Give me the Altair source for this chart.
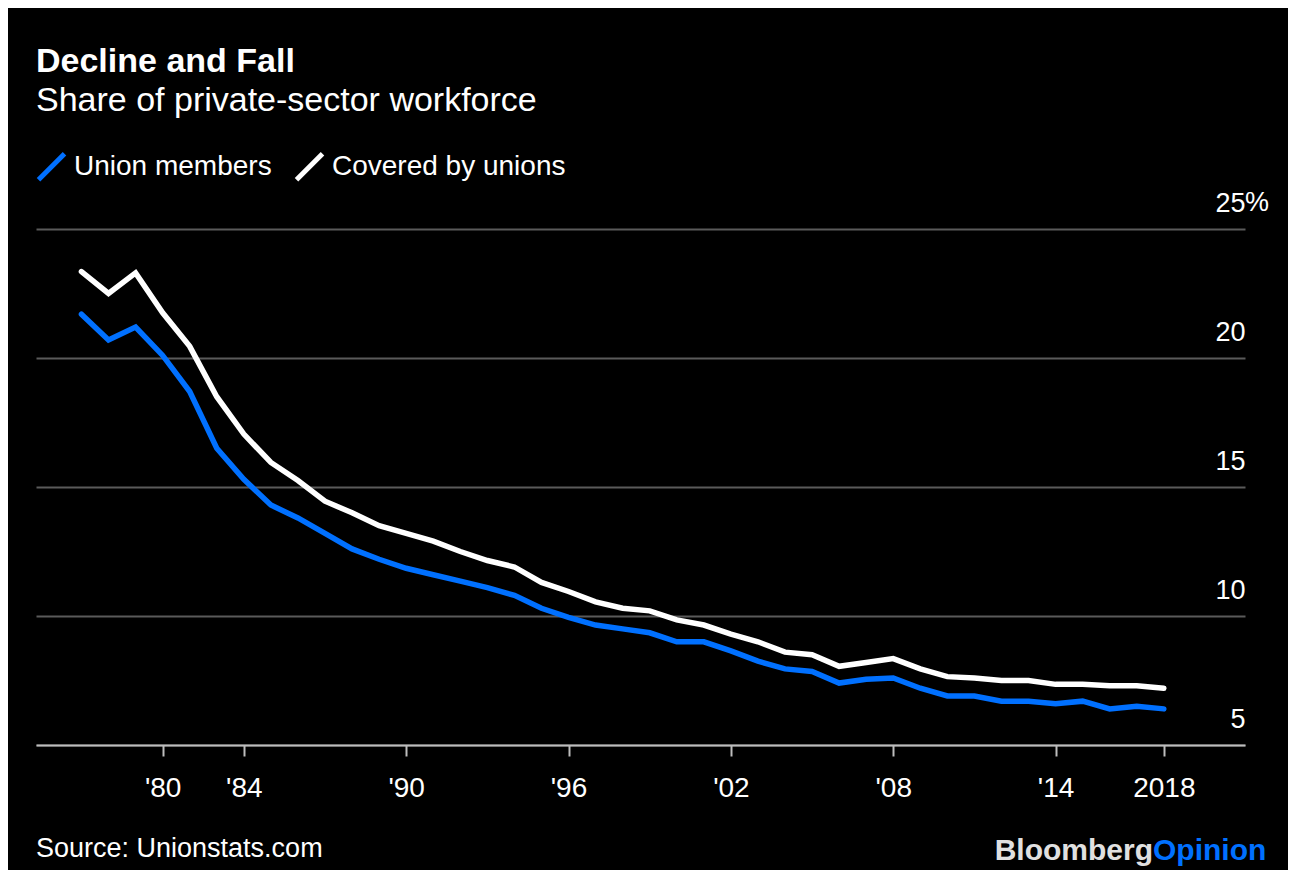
import altair as alt
import pandas as pd

FONT = "Liberation Sans"

# ---- data ----
years = [1977, 1978, 1979, 1980, 1981] + list(range(1983, 2019))
union_members = [21.7, 20.7, 21.2, 20.1, 18.7, 16.5, 15.3, 14.3, 13.8, 13.2,
                 12.6, 12.2, 11.85, 11.6, 11.35, 11.1, 10.8, 10.3, 9.95, 9.65,
                 9.5, 9.35, 9.0, 9.0, 8.65, 8.25, 7.95, 7.85, 7.4, 7.55,
                 7.6, 7.2, 6.9, 6.9, 6.7, 6.7, 6.6, 6.7, 6.4, 6.5, 6.4]
covered = [23.35, 22.5, 23.3, 21.75, 20.45, 18.5, 17.05, 15.95, 15.25, 14.45,
           14.0, 13.5, 13.2, 12.9, 12.5, 12.15, 11.9, 11.3, 10.95, 10.55,
           10.3, 10.2, 9.85, 9.65, 9.3, 9.0, 8.6, 8.5, 8.05, 8.2,
           8.35, 7.95, 7.65, 7.6, 7.5, 7.5, 7.35, 7.35, 7.3, 7.3, 7.2]
tick_years = [1980, 1984, 1990, 1996, 2002, 2008, 2014, 2018]
tick_labels = ["'80", "'84", "'90", "'96", "'02", "'08", "'14", "2018"]
y_ticks = [5, 10, 15, 20, 25]
series_names = ["Union members", "Covered by unions"]
series_colors = ["#0070ff", "#ffffff"]

title_text = "Decline and Fall"
subtitle_text = "Share of private-sector workforce"
source_text = "Source: Unionstats.com"

# ---- build table ----
rows = []
for i, (yr, u, c) in enumerate(zip(years, union_members, covered)):
    rows.append({"i": i, "year": yr, "series": series_names[0], "value": u})
    rows.append({"i": i, "year": yr, "series": series_names[1], "value": c})
df = pd.DataFrame(rows)

tick_idx = [years.index(y) for y in tick_years]
label_expr = " : ".join(
    f'datum.value == {i} ? "{l}"' for i, l in zip(tick_idx, tick_labels)
) + ' : ""'

W, H = 1209, 516

lines = alt.Chart(df).mark_line(
    strokeWidth=5.5, strokeCap="round", strokeJoin="miter"
).encode(
    x=alt.X("i:Q",
            scale=alt.Scale(domain=[-1.68, 43.0], nice=False, zero=False),
            axis=alt.Axis(values=tick_idx, labelExpr=label_expr, title=None,
                          grid=False, domain=True, domainColor="#bdbdbd",
                          domainWidth=2, ticks=True, tickColor="#bdbdbd",
                          tickWidth=2, tickSize=11, labelFontSize=28,
                          labelColor="#ffffff", labelFont=FONT,
                          labelPadding=18, labelFlush=False,
                          labelOverlap=False, zindex=1)),
    y=alt.Y("value:Q",
            scale=alt.Scale(domain=[5, 25], nice=False, zero=False),
            axis=alt.Axis(orient="right", values=y_ticks, title=None,
                          grid=True, gridColor="#5a5a5a", gridWidth=2,
                          domain=False, ticks=False, tickSize=0,
                          labelAlign="right", labelBaseline="alphabetic",
                          labelOffset=-18, labelPadding=0, labelFontSize=27,
                          labelColor="#ffffff", labelFont=FONT,
                          labelFlush=False)),
    color=alt.Color("series:N",
                    scale=alt.Scale(domain=series_names, range=series_colors),
                    legend=alt.Legend(title=None, orient="none", legendX=0,
                                      legendY=-78, direction="horizontal",
                                      symbolType="M-1,1L1,-1", symbolSize=676,
                                      symbolStrokeWidth=5, labelFontSize=28,
                                      labelColor="#ffffff", labelFont=FONT,
                                      labelOffset=7, columnPadding=14,
                                      labelLimit=400, padding=0)),
)

pct = alt.Chart(pd.DataFrame({"v": [25], "t": ["%"]})).mark_text(
    align="left", baseline="alphabetic", fontSize=27, color="#ffffff",
    font=FONT, dy=-18
).encode(y=alt.Y("v:Q"), x=alt.value(W), text="t:N")


def txt(text, x, y, size, bold=False, color="#ffffff", align="left"):
    return alt.Chart(pd.DataFrame({"t": [text]})).mark_text(
        align=align, baseline="alphabetic", fontSize=size,
        fontWeight="bold" if bold else "normal", color=color, font=FONT
    ).encode(x=alt.value(x), y=alt.value(y), text="t:N")


title = txt(title_text, 0, -157, 34, bold=True)
subtitle = txt(subtitle_text, 0, -118, 34)
source = txt(source_text, 0, 628, 27)
logo1 = txt("Bloomberg", 1117, 631, 30, bold=True, color="#e0e0e0", align="right")
logo2 = txt("Opinion", 1117, 631, 30, bold=True, color="#0070ff", align="left")

chart = alt.layer(lines, pct, title, subtitle, source, logo1, logo2).properties(
    width=W, height=H, background="#000000",
    padding={"left": 28, "top": 221, "right": 43, "bottom": 125},
    autosize=alt.AutoSizeParams(type="none"),
).configure_view(stroke=None)

chart.save("out.html", embed_options={"renderer": "svg", "actions": False})
